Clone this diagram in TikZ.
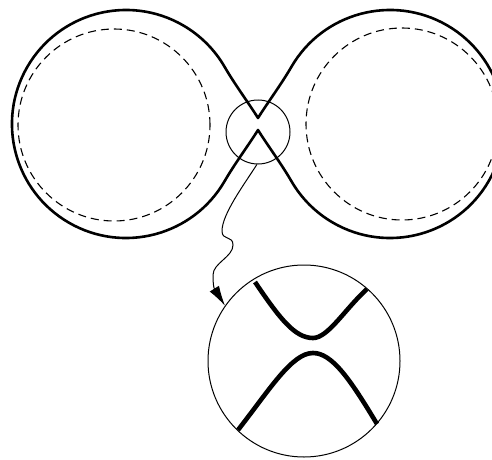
\documentclass[tikz,border=0pt]{standalone}
\usetikzlibrary{arrows.meta}

\begin{document}
\begin{tikzpicture}[
  x=1pt, y=1pt,
  lobe/.style   ={line width=2.6pt, line join=round},
  guide/.style  ={line width=1.1pt, dash pattern=on 8pt off 5pt},
  ring/.style   ={draw, circle, line width=1pt, inner sep=0pt},
  strand/.style ={line width=4.6pt},
  wavy/.style   ={-{Latex[length=20pt, width=11pt]}, line width=1pt},
]
\useasboundingbox (0,0) rectangle (492,459);

% ============ Smoothed figure eight ============
\draw[lobe] (258,341) .. controls (266,354) and (281.3,374.7) .. (291.3,392)
  arc[start angle=150, end angle=-150, radius=114]
  .. controls (281.3,295.3) and (266,316) .. (258,329)
  .. controls (250,316) and (234.7,295.3) .. (224.7,278)
  arc[start angle=-30, end angle=-330, radius=114]
  .. controls (234.7,374.7) and (250,354) .. cycle;

% ============ Dashed inner circles ============
\draw[guide] (114,334) circle[radius=96];
\draw[guide] (402,335) circle[radius=96];

% ============ Zoom region and magnified view ============
\node[ring, minimum size=64pt]  (zoom) at (258,327) {};
\node[ring, minimum size=192pt] (lens) at (304,98)  {};

\draw[strand] (255,177) .. controls (280,140) and (295,121) .. (313,121)
  .. controls (328,121) and (345,150) .. (367,170);
\draw[strand] (238,29) .. controls (270,70) and (292,106) .. (313,106)
  .. controls (332,106) and (350,80) .. (377,35);

% ============ Wavy pointer ============
\coordinate (w1) at (222,228);
\coordinate (w2) at (233,214);
\coordinate (w3) at (213,184);
\draw[wavy] (zoom.-92) .. controls +(-12,-19) and +(0,17) .. (w1)
  .. controls +(0,-10) and +(0,10) .. (w2)
  .. controls +(0,-12) and +(0,12) .. (w3)
  .. controls +(0,-14) and +(-10,16) .. (lens.145);

\end{tikzpicture}
\end{document}
